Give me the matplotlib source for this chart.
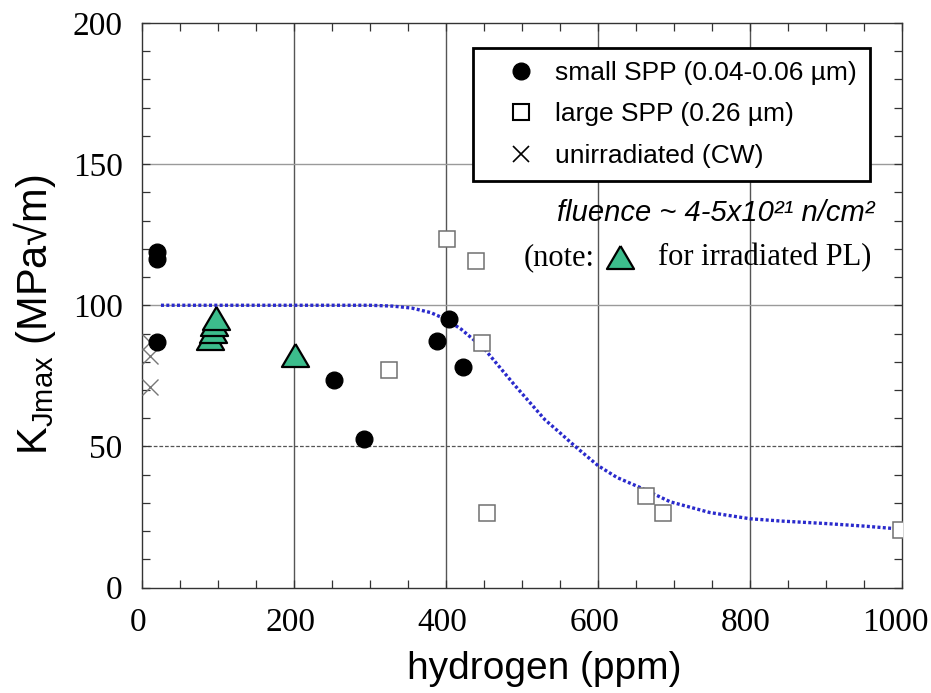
import matplotlib
matplotlib.use('Agg')
import matplotlib.pyplot as plt
from matplotlib.lines import Line2D
from matplotlib.ticker import MultipleLocator
from matplotlib.transforms import ScaledTranslation

plt.rcParams['font.family'] = ['Liberation Sans', 'DejaVu Sans']
plt.rcParams['mathtext.fontset'] = 'custom'
plt.rcParams['mathtext.rm'] = 'Liberation Sans'

# small SPP (0.04-0.06 um)
small_h = [20, 20, 20, 253, 292, 388, 404, 422]
small_k = [119, 116.5, 87, 73.5, 52.5, 87.5, 95, 78]

# large SPP (0.26 um)
large_h = [325, 401, 439, 447, 454, 663, 686, 999]
large_k = [77, 123.5, 115.5, 86.5, 26.5, 32.5, 26.5, 20.5]

# unirradiated (CW)
cw_h = [10, 10, 10]
cw_k = [87, 82, 71]

# irradiated PL
pl_h = [90, 93, 95, 97, 201]
pl_k = [88.5, 91, 93.5, 95.5, 82.3]

# trend curve
fit_h = [25, 100, 200, 300, 330, 355, 380, 400, 420, 450, 490, 530, 550, 570,
         600, 625, 655, 695, 747, 800, 840, 900, 950, 1000]
fit_k = [100, 100, 100, 100, 99.7, 99.0, 97.4, 95, 91.5, 84.7, 71.8, 59.5, 54.8, 50,
         43.2, 39, 35.5, 30.4, 26.6, 24.4, 23.6, 22.7, 21.8, 20.7]

x_ticks = [0, 200, 400, 600, 800, 1000]
y_ticks = [0, 50, 100, 150, 200]

serif = ['Liberation Serif', 'DejaVu Serif']
tri = [(0, 0.85), (-1, -0.85), (1, -0.85), (0, 0.85)]
tri_color = '#3cbd8c'

fig = plt.figure(figsize=(9.31, 6.93), dpi=100, facecolor='white')
ax = fig.add_axes([0.1525, 0.152, 0.8165, 0.815])

ax.set_xlim(0, 1000)
ax.set_ylim(0, 200)

for x in [200, 400, 600, 800]:
    ax.axvline(x, color='#555555', lw=1.0, zorder=0)
for y in [100, 150]:
    ax.axhline(y, color='#9a9a9a', lw=1.0, zorder=0)
ax.axhline(50, color='#555555', lw=0.9, ls=(0, (3, 1.5)), zorder=0)

ax.plot(fit_h, fit_k, color='#2a2acc', lw=2.4, ls=(0, (0.9, 0.7)), zorder=2)

ax.plot(cw_h, cw_k, ls='none', marker='x', ms=11, mew=1.0, color='#777777', zorder=3)
ax.plot(large_h, large_k, ls='none', marker='s', ms=11.5, mfc='white',
        mec='#707070', mew=1.1, zorder=3)
ax.plot(small_h, small_k, ls='none', marker='o', ms=12, color='black', zorder=4)
ax.plot(pl_h, pl_k, ls='none', marker=tri, ms=19.5, mfc=tri_color,
        mec='black', mew=1.6, zorder=5)

ax.set_xticks(x_ticks)
ax.set_yticks(y_ticks)
ax.xaxis.set_minor_locator(MultipleLocator(50))
ax.yaxis.set_minor_locator(MultipleLocator(10))
ax.tick_params(which='both', direction='in', top=True, right=True,
               length=6, width=0.9, color='#333333')
ax.tick_params(axis='x', pad=14)
ax.tick_params(axis='y', pad=14)
for lab in ax.get_xticklabels() + ax.get_yticklabels():
    lab.set_family(serif)
    lab.set_fontsize(24)
# x labels sit a little left of their ticks, the last one more so
for i, tick in enumerate(ax.xaxis.get_major_ticks()):
    dx = -7 if i == len(x_ticks) - 1 else -4
    tick.label1.set_transform(tick.label1.get_transform()
                              + ScaledTranslation(dx / 100, 0, fig.dpi_scale_trans))
for sp in ax.spines.values():
    sp.set_linewidth(1.0)
    sp.set_color('#333333')

ax.set_xlabel('hydrogen (ppm)', fontsize=28)
ax.xaxis.set_label_coords(0.529, -0.112)
ax.set_ylabel(r'K$_{\mathregular{Jmax}}$ (MPa√m)', fontsize=30)
ax.yaxis.set_label_coords(-0.111, 0.483)

handles = [
    Line2D([], [], ls='none', marker='o', ms=12, color='black'),
    Line2D([], [], ls='none', marker='s', ms=11, mfc='white', mec='black', mew=1.5),
    Line2D([], [], ls='none', marker='x', ms=12, mew=1.2, color='black'),
]
labels = ['small SPP (0.04-0.06 µm)', 'large SPP (0.26 µm)', 'unirradiated (CW)']
leg = ax.legend(handles, labels, loc='upper right', bbox_to_anchor=(0.958, 0.956),
                fontsize=19, frameon=True, fancybox=False, framealpha=1,
                edgecolor='black', handlelength=2.6, handletextpad=0.0,
                labelspacing=0.66, borderpad=0.5, borderaxespad=0)
leg.get_frame().set_linewidth(2.0)
leg.set_zorder(6)

ax.text(0.964, 0.664, 'fluence ~ 4-5x10²¹ n/cm²', transform=ax.transAxes,
        ha='right', va='center', fontsize=21, style='italic')
ax.text(0.596, 0.584, '(note:', transform=ax.transAxes, ha='right',
        va='center', fontsize=22, family=serif)
ax.plot([0.629], [0.586], transform=ax.transAxes, marker=tri, ms=19.5,
        mfc=tri_color, mec='black', mew=1.6, ls='none', clip_on=False)
ax.text(0.679, 0.584, 'for irradiated PL)', transform=ax.transAxes, ha='left',
        va='center', fontsize=22, family=serif)

fig.savefig('out.png', dpi=100, facecolor='white')
